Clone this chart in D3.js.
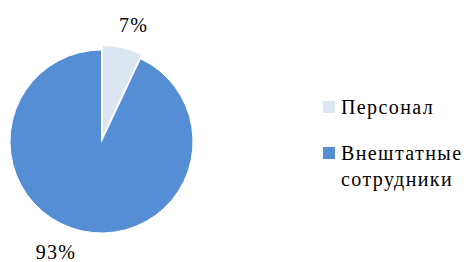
<!DOCTYPE html>
<html>
<head>
<meta charset="UTF-8">
<title>Персонал</title>
<script src="https://d3js.org/d3.v7.min.js"></script>
<style>
  body { margin: 0; background: #fff; }
</style>
</head>
<body>
<svg id="grafico"></svg>
<script>
  // dados
  const categorias = ["Персонал", "Внештатные сотрудники"];
  const valores = [7, 93];
  const rotulos = ["7%", "93%"];
  const cores = ["#dce6f2", "#558ed5"];

  const fonte = '"Liberation Serif"';

  const largura = 464, altura = 262;
  const centro = { x: 101.5, y: 141.5 };
  const raio = 91.5;

  const svg = d3.select("#grafico")
      .attr("width", largura)
      .attr("height", altura);

  const pie = d3.pie().sort(null).value(d => d);
  const arcos = pie(valores);

  const arco = d3.arc().innerRadius(0).outerRadius(raio);

  const grupo = svg.append("g")
      .attr("transform", `translate(${centro.x}, ${centro.y})`);

  // fatias (a pequena fica um pouco destacada)
  grupo.selectAll("path")
      .data(arcos)
      .enter().append("path")
      .attr("d", arco)
      .attr("fill", (d, i) => cores[i])
      .attr("stroke", "#fff")
      .attr("stroke-width", 1)
      .attr("transform", (d, i) => {
        if (i !== 0) return null;
        const meio = (d.startAngle + d.endAngle) / 2;
        const desloc = 4.5;
        return `translate(${desloc * Math.sin(meio)}, ${-desloc * Math.cos(meio)})`;
      });

  // rótulos de porcentagem
  const raioRotulo = 120;
  const angRotulo = (d, i) => (d.startAngle + d.endAngle) / 2 + (i === 0 ? 0.05 : 0.17);
  grupo.selectAll(".rotulo")
      .data(arcos)
      .enter().append("text")
      .attr("class", "rotulo")
      .attr("text-anchor", "middle")
      .attr("dy", "0.33em")
      .style("font-family", fonte)
      .style("font-size", "20px")
      .style("letter-spacing", "1.2px")
      .attr("x", (d, i) => raioRotulo * Math.sin(angRotulo(d, i)))
      .attr("y", (d, i) => -raioRotulo * Math.cos(angRotulo(d, i)))
      .text((d, i) => rotulos[i]);

  // legenda
  const legenda = svg.append("g")
      .attr("transform", "translate(323, 101)");

  const itens = legenda.selectAll(".item")
      .data(categorias)
      .enter().append("g")
      .attr("class", "item")
      .attr("transform", (d, i) => `translate(0, ${i * 46})`);

  itens.append("rect")
      .attr("width", 12)
      .attr("height", 12)
      .attr("fill", (d, i) => cores[i]);

  itens.append("text")
      .attr("y", 13)
      .style("font-family", fonte)
      .style("font-size", "20px")
      .style("letter-spacing", "1.4px")
      .each(function(d) {
        const palavras = d.split(" ");
        d3.select(this).selectAll("tspan")
          .data(palavras)
          .enter().append("tspan")
          .attr("x", 18)
          .attr("dy", (p, j) => j === 0 ? 0 : 26)
          .text(p => p);
      });
</script>
</body>
</html>
